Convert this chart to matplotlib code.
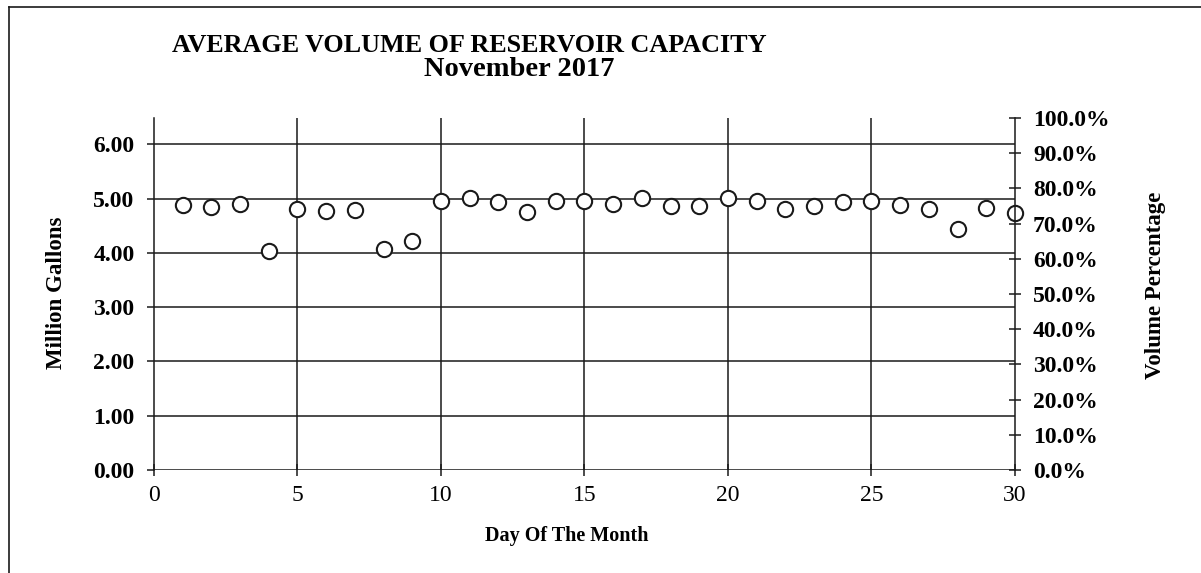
import matplotlib
matplotlib.use("Agg")
import matplotlib.pyplot as plt
from matplotlib.lines import Line2D
from matplotlib.ticker import FuncFormatter

# daily average reservoir volume, November 2017 (million gallons)
days = list(range(1, 31))
volume_mg = [4.88, 4.84, 4.90, 4.04, 4.80, 4.78, 4.79, 4.08, 4.22, 4.96,
             5.01, 4.93, 4.75, 4.96, 4.96, 4.90, 5.01, 4.87, 4.87, 5.01,
             4.96, 4.81, 4.87, 4.93, 4.96, 4.88, 4.81, 4.44, 4.82, 4.73]

x_ticks = [0, 5, 10, 15, 20, 25, 30]
left_ticks = [0, 1, 2, 3, 4, 5, 6]
right_ticks = [i / 10 for i in range(11)]

FONT = "Liberation Serif"
LINE = "#1a1a1a"

plt.rcParams["font.family"] = FONT

fig = plt.figure(figsize=(12.01, 5.73), dpi=100)
ax = fig.add_axes([0.1282, 0.1798, 0.8451 - 0.1282, 0.7941 - 0.1798])

# scatter of open circles
ax.plot(days, volume_mg, linestyle="none", marker="o", markersize=11,
        markerfacecolor="white", markeredgecolor=LINE, markeredgewidth=1.5, zorder=5,
        clip_on=False)

ax.set_xlim(0, 30)
ax.set_ylim(0, 6.485)
ax.set_xticks(x_ticks)
ax.set_yticks(left_ticks)
ax.yaxis.set_major_formatter(FuncFormatter(lambda v, p: f"{v:.2f}"))

# grid lines: horizontal at each million gallons, vertical every 5 days
for v in left_ticks:
    ax.axhline(v, color=LINE, linewidth=1.1, zorder=1)
for d in x_ticks[1:-1]:
    ax.axvline(d, color=LINE, linewidth=1.1, zorder=1)

for side in ["top", "right", "bottom"]:
    ax.spines[side].set_visible(False)
ax.spines["left"].set_color(LINE)
ax.spines["left"].set_linewidth(1.1)

ax.tick_params(axis="y", direction="out", length=5, width=1.1, color=LINE,
               labelsize=17, pad=9)
ax.tick_params(axis="x", direction="inout", length=8, width=1.1, color=LINE,
               labelsize=17, pad=7)
for lab in ax.get_yticklabels():
    lab.set_fontweight("bold")

# right-hand percentage axis
ax2 = ax.twinx()
ax2.set_ylim(0, 1)
ax2.set_yticks(right_ticks)
ax2.yaxis.set_major_formatter(FuncFormatter(lambda v, p: f"{v * 100:.1f}%"))
for side in ["top", "left", "bottom"]:
    ax2.spines[side].set_visible(False)
ax2.spines["right"].set_color(LINE)
ax2.spines["right"].set_linewidth(1.1)
ax2.tick_params(axis="y", direction="inout", length=8, width=1.1, color=LINE,
                labelsize=17, pad=9)
for lab in ax2.get_yticklabels():
    lab.set_fontweight("bold")

# titles and axis labels
fig.text(469 / 1201, 1 - 45 / 573, "AVERAGE VOLUME OF RESERVOIR CAPACITY",
         ha="center", va="center", fontsize=18.8, fontweight="bold")
fig.text(519 / 1201, 1 - 69 / 573, "November 2017",
         ha="center", va="center", fontsize=20.5, fontweight="bold")
fig.text(57 / 1201, 1 - 293 / 573, "Million Gallons", rotation=90,
         ha="center", va="center", fontsize=16.5, fontweight="bold")
fig.text(1155 / 1201, 1 - 285 / 573, "Volume Percentage", rotation=90,
         ha="center", va="center", fontsize=16.5, fontweight="bold")
fig.text(567 / 1201, 1 - 536 / 573, "Day Of The Month",
         ha="center", va="center", fontsize=14.5, fontweight="bold")

# page frame: left and top edges only
fx = 9 / 1201
fy = 1 - 7 / 573
fig.add_artist(Line2D([fx, fx], [0, fy], color=LINE, linewidth=1.2))
fig.add_artist(Line2D([fx, 1], [fy, fy], color=LINE, linewidth=1.2))

fig.savefig("out.png", dpi=100)
